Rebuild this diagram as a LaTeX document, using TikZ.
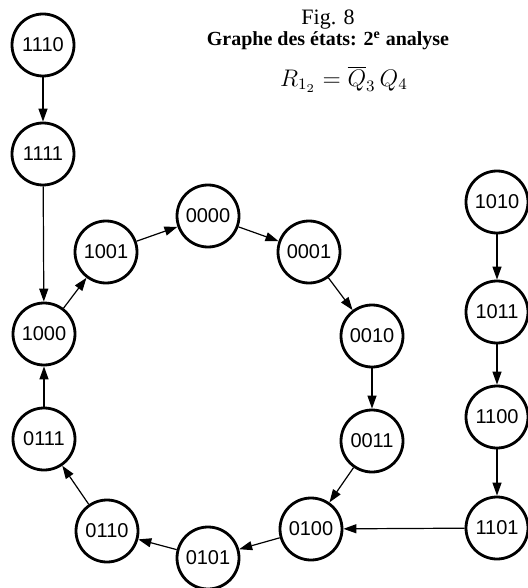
\documentclass[tikz,border=0pt]{standalone}
\usepackage{fontspec}
\setmainfont{Liberation Serif}
\setsansfont{Liberation Sans}
\usetikzlibrary{arrows.meta}

\begin{document}
\begin{tikzpicture}[
    x=0.5pt, y=-0.5pt,
    etat/.style={circle, draw, line width=1.4pt, minimum size=31pt, inner sep=0pt, font=\sffamily\fontsize{10}{12}\selectfont},
    trans/.style={-{Triangle[length=6.5pt,width=4.5pt]}, line width=0.6pt},
    titre/.style={font=\bfseries\fontsize{10}{12}\selectfont}
]
    \useasboundingbox (0,0) rectangle (527,588);

    % Title
    \node[font=\fontsize{11}{13}\selectfont] (fig) at (328,20) {Fig. 8};
    \node[titre] (titre) at (328,41) {Graphe des états: 2\textsuperscript{e} analyse};
    \node[font=\fontsize{12}{14}\selectfont] (eq) at (344,79) {$R_{1_2} = \overline{Q}_3\,Q_4$};

    % Left branch
    \node[etat] (s1110) at (43,45) {1110};
    \node[etat] (s1111) at (43,154) {1111};

    % Cycle
    \node[etat] (s1000) at (44,334) {1000};
    \node[etat] (s1001) at (106,252) {1001};
    \node[etat] (s0000) at (208,216) {0000};
    \node[etat] (s0001) at (309,252) {0001};
    \node[etat] (s0010) at (372,336) {0010};
    \node[etat] (s0011) at (372,441) {0011};
    \node[etat] (s0100) at (311,529) {0100};
    \node[etat] (s0101) at (208,558) {0101};
    \node[etat] (s0110) at (107,531) {0110};
    \node[etat] (s0111) at (44,439) {0111};

    % Right branch
    \node[etat] (s1010) at (497,202) {1010};
    \node[etat] (s1011) at (497,312) {1011};
    \node[etat] (s1100) at (497,417) {1100};
    \node[etat] (s1101) at (497,528) {1101};

    % Transitions
    \draw[trans] (s1110) -- (s1111);
    \draw[trans] (s1111) -- (s1000);

    \draw[trans] (s1000) -- (s1001);
    \draw[trans] (s1001) -- (s0000);
    \draw[trans] (s0000) -- (s0001);
    \draw[trans] (s0001) -- (s0010);
    \draw[trans] (s0010) -- (s0011);
    \draw[trans] (s0011) -- (s0100);
    \draw[trans] (s0100) -- (s0101);
    \draw[trans] (s0101) -- (s0110);
    \draw[trans] (s0110) -- (s0111);
    \draw[trans] (s0111) -- (s1000);

    \draw[trans] (s1010) -- (s1011);
    \draw[trans] (s1011) -- (s1100);
    \draw[trans] (s1100) -- (s1101);
    \draw[trans] (s1101) -- (s0100);

\end{tikzpicture}
\end{document}
